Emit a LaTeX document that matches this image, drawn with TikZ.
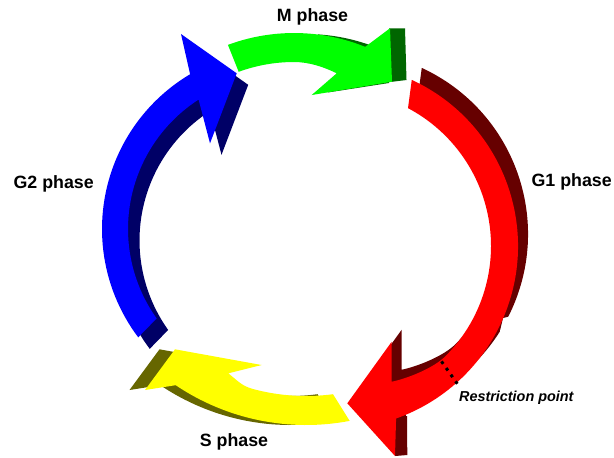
\documentclass[tikz,border=0pt]{standalone}
\usepackage{fontspec}
\setmainfont{Liberation Sans}
\definecolor{cycBlue}{RGB}{0,0,255}
\definecolor{cycBlueSide}{RGB}{0,0,102}
\definecolor{cycGreen}{RGB}{0,255,0}
\definecolor{cycGreenSide}{RGB}{0,102,0}
\definecolor{cycRed}{RGB}{255,0,0}
\definecolor{cycRedSide}{RGB}{102,0,0}
\definecolor{cycYellow}{RGB}{255,255,0}
\definecolor{cycYellowSide}{RGB}{102,102,0}
\tikzset{
  cycface/.style={fill=#1},
  cycside/.style={fill=#1},
  cyclabel/.style={
    font=\fontsize{8.9}{10}\selectfont\bfseries,
    anchor=base,
    inner sep=0pt
  },
  cycnote/.style={
    font=\fontsize{7.2}{9}\selectfont\bfseries\itshape,
    anchor=base,
    inner sep=0pt
  },
  cycmark/.style={
    line width=1.5pt,
    dash pattern=on 1.5pt off 2.57pt
  }
}
\newcommand\cycBluePath{(143:180) arc[start angle=143, end angle=239.3, radius=180]
  -- (-101,-195) -- (-45.3,-155.7) -- (-72,-85.7)
  -- (237.2:154) arc[start angle=237.2, end angle=144.5, radius=154] -- cycle}
\newcommand\cycGreenPath{(249.65:190) arc[start angle=249.65, end angle=292, radius=190]
  -- (96,-194.7) -- (98,-141.3) -- (17.7,-128) -- (42.7,-149.7)
  .. controls (30,-156) and (15,-161) .. (270:161)
  arc[start angle=270, end angle=249.9, radius=161] -- cycle}
\newcommand\cycYellowPath{(79.2:233) arc[start angle=79.2, end angle=124, radius=233]
  -- (-161,198) -- (-131,157.3) -- (-44.3,173) -- (-77.7,181.3)
  .. controls (-68,189) and (-64.4,193.9) .. (105:204)
  arc[start angle=105, end angle=82.4, radius=204] -- cycle}
\newcommand\cycRedPath{(-65.2:183) arc[start angle=-65.2, end angle=70.5, radius=183]
  -- (60,210) -- (12.3,157.3) -- (56.7,95.7) -- (56.7,135.7)
  .. controls (71.7,132.7) and (98.3,122.3) .. (45:156)
  arc[start angle=45, end angle=-62.1, radius=156] -- cycle}

\begin{document}
\begin{tikzpicture}[x=0.5pt, y=-0.5pt]
  \useasboundingbox (0,0) rectangle (614,457);

  % G2
  \fill[cycside=cycBlueSide, shift={(293.5,240.5)}] \cycBluePath;
  \fill[cycface=cycBlue, shift={(282,229)}] \cycBluePath;

  % M
  \begin{scope}
    \clip (318,0) -- (389,0) -- (389,83) -- (318,94) -- cycle;
    \fill[cycside=cycGreenSide, shift={(306,224)}] \cycGreenPath;
  \end{scope}
  \fill[cycside=cycGreenSide] (389,28.3) -- (405,28.3) -- (406.5,80) -- (391,81.9) -- cycle;
  \fill[cycface=cycGreen, shift={(294,223)}] \cycGreenPath;

  % S
  \fill[cycside=cycYellowSide, shift={(290.5,192)}] \cycYellowPath;
  \fill[cycface=cycYellow, shift={(306,192)}] \cycYellowPath;

  % G1
  \begin{scope}
    \clip (0,0) -- (614,0) -- (614,290) -- (503,318) -- (470,457) -- (0,457) -- cycle;
    \fill[cycside=cycRedSide, shift={(345,234)}] \cycRedPath;
  \end{scope}
  \fill[cycside=cycRedSide] (395,416) -- (407,416) -- (407.3,455) -- (395,456) -- cycle;
  \fill[cycface=cycRed, shift={(335,246)}] \cycRedPath;

  \begin{scope}[shift={(335,246)}]
    \coordinate (rpin) at (47.3:157);
    \coordinate (rpout) at (48.5:187);
  \end{scope}
  \draw[cycmark] (rpin) -- (rpout);

  \node[cyclabel] (mphase) at (312.5,21.7) {M phase};
  \node[cyclabel] (gtwophase) at (53.7,188.3) {G2 phase};
  \node[cyclabel] (gonephase) at (571.7,186) {G1 phase};
  \node[cyclabel] (sphase) at (234,446.7) {S phase};
  \node[cycnote] (restrict) at (516.3,401) {Restriction point};
\end{tikzpicture}
\end{document}
